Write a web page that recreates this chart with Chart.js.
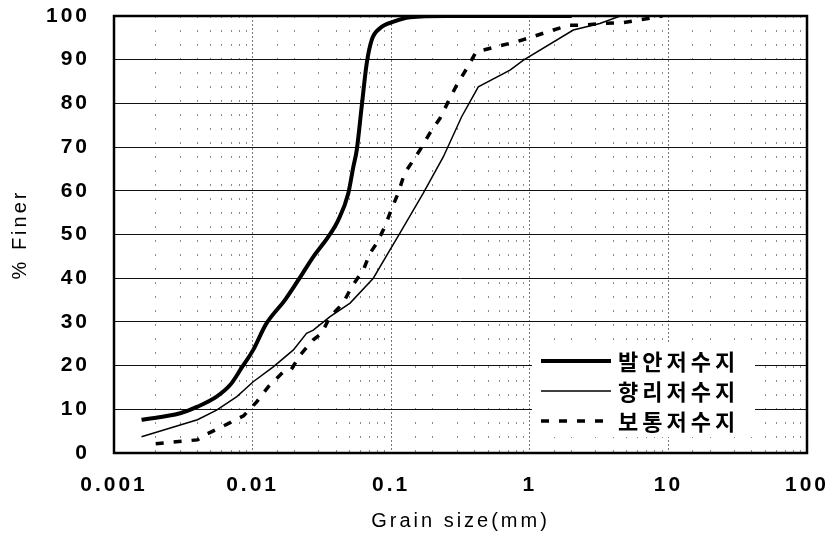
<!DOCTYPE html>
<html>
<head>
<meta charset="utf-8">
<script src="https://cdn.jsdelivr.net/npm/chart.js@4.4.1/dist/chart.umd.min.js"></script>
<style>
    html, body { margin: 0; padding: 0; background: #fff; }
    #wrap { width: 833px; height: 538px; }
</style>
</head>
<body>
<div id="wrap"><canvas id="sieveChart" width="833" height="538"></canvas></div>
<script>
// Grain size (mm) and percent finer for each reservoir
const baranSize = [0.00158, 0.003, 0.004, 0.0055, 0.0069, 0.0083, 0.0101, 0.0125, 0.0171, 0.0214, 0.0274, 0.0352, 0.0415, 0.049, 0.0533, 0.0564, 0.0612, 0.0666, 0.0723, 0.083, 0.104, 0.137, 0.25, 2];
const baranFiner = [7.6, 9.1, 10.6, 12.9, 15.6, 19.4, 23.6, 29.5, 35, 39.6, 44.9, 49.5, 53.3, 59.4, 65.5, 69.3, 79.2, 89.2, 94.5, 97.2, 98.7, 99.7, 100, 100];

const hyangriSize = [0.00158, 0.004, 0.0055, 0.0077, 0.0101, 0.0141, 0.0197, 0.0245, 0.0274, 0.0362, 0.0505, 0.0743, 0.098, 0.1156, 0.17, 0.238, 0.323, 0.425, 0.72, 0.9, 2.06, 3.2, 4.5];
const hyangriFiner = [3.7, 7.6, 9.8, 12.9, 16.3, 19.7, 23.6, 27.4, 28.1, 31.2, 34.3, 40, 46.5, 50.3, 59.4, 67.8, 77, 83.8, 87.6, 89.9, 96.8, 98.3, 100];

const botongSize = [0.002, 0.0028, 0.004, 0.0045, 0.006, 0.0086, 0.0107, 0.013, 0.0167, 0.019, 0.022, 0.0274, 0.0315, 0.0362, 0.045, 0.052, 0.063, 0.0703, 0.0786, 0.09, 0.1, 0.112, 0.125, 0.161, 0.19, 0.225, 0.258, 0.297, 0.351, 0.41, 0.577, 0.8, 1.06, 1.48, 1.95, 2.43, 3.39, 4.73, 7.36, 9];
const botongFiner = [2.1, 2.6, 3.0, 4.1, 6.0, 8.5, 11.7, 15.2, 18.6, 19.1, 22.4, 25.9, 27.4, 31.2, 34.3, 38.1, 41.9, 45.7, 48, 51.8, 55.6, 59.4, 64, 69.3, 73.2, 76.6, 80.4, 84.2, 88, 91.8, 93, 94.1, 95.3, 96.8, 97.9, 97.9, 98.3, 98.5, 99.5, 100];

const seriesNames = ['발안저수지', '향리저수지', '보통저수지'];
const xTickLabels = ['0.001', '0.01', '0.1', '1', '10', '100'];

const latinFont = "'Liberation Sans', Arial, sans-serif";

function toPoints(xs, ys) {
    return xs.map((x, i) => ({ x: x, y: ys[i] }));
}

function isDecade(v) {
    const l = Math.log10(v);
    return Math.abs(l - Math.round(l)) < 1e-6;
}

// Wide letter spacing on all canvas text
const spacing = {
    id: 'spacing',
    beforeUpdate(chart) { chart.ctx.letterSpacing = '3px'; },
    beforeDraw(chart) { chart.ctx.letterSpacing = '3px'; }
};

// Legend sits on a white patch inside the lower right of the plot
const legendBox = {
    id: 'legendBox',
    afterDatasetsDraw(chart) {
        const { ctx, chartArea } = chart;
        const x0 = chartArea.right - 275;
        const y0 = chartArea.bottom - 110;
        ctx.save();
        ctx.fillStyle = '#fff';
        ctx.fillRect(x0, y0, 223, 94);
        chart.data.datasets.forEach((ds, i) => {
            const y = y0 + 18 + i * 30;
            ctx.beginPath();
            ctx.strokeStyle = '#000';
            ctx.lineWidth = ds.borderWidth;
            ctx.setLineDash(ds.borderDash || []);
            ctx.moveTo(x0 + 9, y);
            ctx.lineTo(x0 + 79, y);
            ctx.stroke();
            ctx.setLineDash([]);
            ctx.fillStyle = '#000';
            ctx.font = "bold 22px 'Noto Sans CJK KR', sans-serif";
            ctx.letterSpacing = '4px';
            ctx.textAlign = 'left';
            ctx.textBaseline = 'middle';
            ctx.fillText(ds.label, x0 + 86, y + 1);
        });
        ctx.restore();
    }
};

// Heavy frame round the plot area
const frame = {
    id: 'frame',
    afterDraw(chart) {
        const { ctx, chartArea } = chart;
        ctx.save();
        ctx.strokeStyle = '#000';
        ctx.lineWidth = 2.5;
        ctx.setLineDash([]);
        ctx.strokeRect(chartArea.left, chartArea.top, chartArea.right - chartArea.left, chartArea.bottom - chartArea.top);
        ctx.restore();
    }
};

const ctx = document.getElementById('sieveChart');

new Chart(ctx, {
    type: 'line',
    data: {
        datasets: [{
            label: seriesNames[0],
            data: toPoints(baranSize, baranFiner),
            borderColor: '#000',
            borderWidth: 4,
            pointRadius: 0,
            cubicInterpolationMode: 'monotone',
            fill: false
        }, {
            label: seriesNames[1],
            data: toPoints(hyangriSize, hyangriFiner),
            borderColor: '#000',
            borderWidth: 1.5,
            pointRadius: 0,
            tension: 0,
            fill: false
        }, {
            label: seriesNames[2],
            data: toPoints(botongSize, botongFiner),
            borderColor: '#000',
            borderWidth: 3.5,
            borderDash: [8, 10],
            pointRadius: 0,
            tension: 0,
            fill: false
        }]
    },
    options: {
        responsive: false,
        animation: false,
        layout: {
            padding: { top: 16, right: 26, bottom: 0, left: 0 }
        },
        plugins: {
            legend: { display: false },
            tooltip: { enabled: false }
        },
        scales: {
            x: {
                type: 'logarithmic',
                min: 0.001,
                max: 100,
                afterFit: (scale) => {
                    scale.height = 85;
                    scale.paddingLeft = 0;
                    scale.paddingRight = 0;
                },
                ticks: {
                    autoSkip: false,
                    maxRotation: 0,
                    minRotation: 0,
                    padding: 20,
                    color: '#000',
                    font: { family: latinFont, size: 21, weight: 'bold' },
                    callback: (value) => {
                        if (!isDecade(value)) return '';
                        return xTickLabels[Math.round(Math.log10(value)) + 3];
                    }
                },
                grid: {
                    drawTicks: false,
                    lineWidth: 1,
                    color: (c) => (c.tick && isDecade(c.tick.value)) ? '#777' : '#888'
                },
                border: {
                    display: false,
                    dash: (c) => (c.tick && isDecade(c.tick.value)) ? [2, 2] : [2, 12]
                },
                title: {
                    display: true,
                    text: 'Grain size(mm)',
                    color: '#000',
                    font: { family: latinFont, size: 20 },
                    padding: { top: 0, bottom: 5 }
                }
            },
            y: {
                min: 0,
                max: 100,
                afterFit: (scale) => {
                    scale.width = 114;
                    scale.paddingTop = 0;
                    scale.paddingBottom = 0;
                },
                ticks: {
                    stepSize: 10,
                    padding: 24,
                    color: '#000',
                    font: { family: latinFont, size: 21, weight: 'bold' }
                },
                grid: {
                    drawTicks: false,
                    lineWidth: 1,
                    color: '#111'
                },
                border: { display: false },
                title: {
                    display: true,
                    text: '% Finer',
                    color: '#000',
                    font: { family: latinFont, size: 20 },
                    padding: { top: 8, bottom: 0 }
                }
            }
        }
    },
    plugins: [spacing, legendBox, frame]
});
</script>
</body>
</html>
